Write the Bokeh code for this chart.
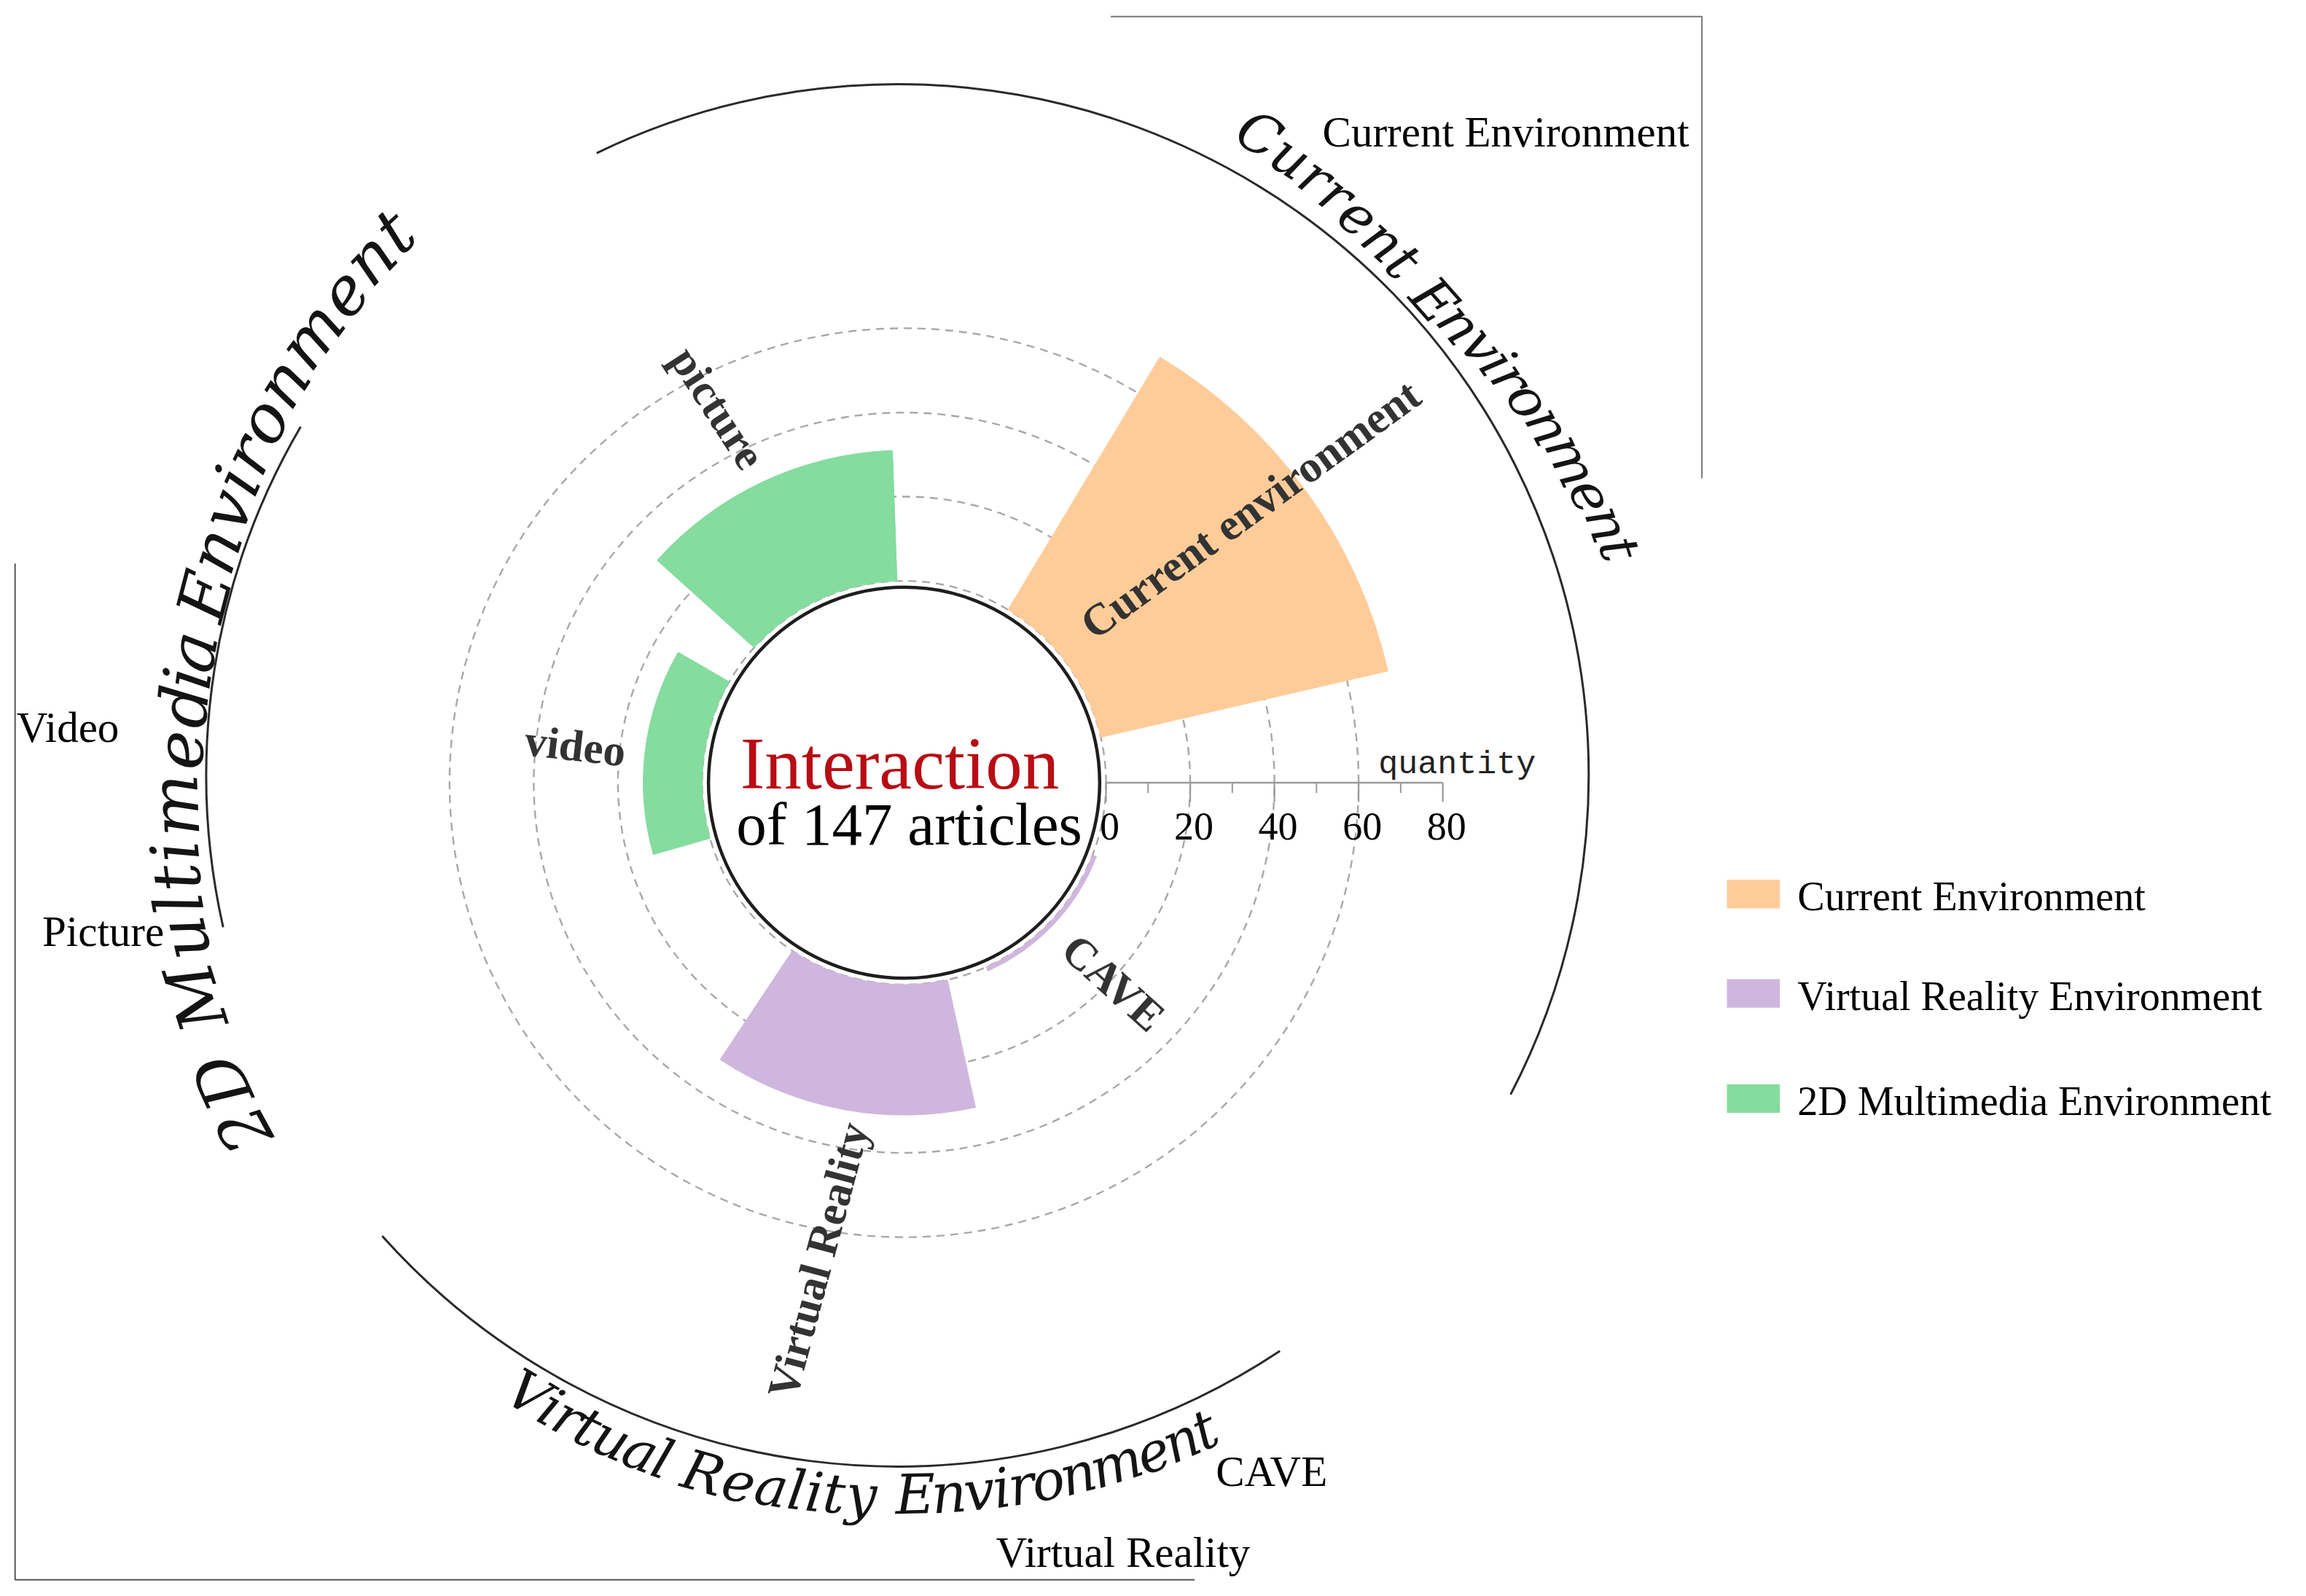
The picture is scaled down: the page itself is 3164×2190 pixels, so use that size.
import numpy as np
from bokeh.plotting import figure
from bokeh.models import Range1d, ColumnDataSource
from bokeh.core.properties import value
from bokeh.embed import file_html
from bokeh.resources import INLINE

# ---------------- data ----------------
categories = ["Current environment", "CAVE", "Virtual Reality", "video", "picture"]
groups = ["Current Environment", "Virtual Reality Environment", "Virtual Reality Environment",
          "2D Multimedia Environment", "2D Multimedia Environment"]
quantities = [70, 1, 31, 14, 31]
legend_labels = ["Current Environment", "Virtual Reality Environment", "2D Multimedia Environment"]
axis_major = [0, 20, 40, 60, 80]
axis_minor = [10, 30, 50, 70]
grid_values = [0, 20, 40, 60]
axis_title = "quantity"
center_title = "Interaction"
center_sub = "of 147 articles"
ring_titles = ["Current Environment", "2D Multimedia Environment", "Virtual Reality Environment"]
side_notes = ["Current Environment", "Video", "Picture", "CAVE", "Virtual Reality"]

# ---------------- layout / style ----------------
S = 3164 / 1568.0           # screen px per layout unit
W, H = 3148, 2174
colors = {"Current Environment": "#FFCC99",
          "Virtual Reality Environment": "#CFB6DE",
          "2D Multimedia Environment": "#84DC9E"}
CX, CY = 614.5, 532.0       # polar centre (layout units, y down)
R_IN = 133.0                # white hub
R0 = 137.3                  # radius of value 0
K = 2.8625                  # radius per unit
bar_center_deg = [36.0, 316.5, 259.4, 173.0, 115.0]
bar_width_deg = [46.0, 45.0, 46.0, 46.0, 46.0]
OX, OY, OR = 610.0, 527.0, 470.0   # outer group arcs
DEG = dict(start_angle_units="deg", end_angle_units="deg")


def px(d):
    return value(f"{d * S:.0f}px")


def rad(v):
    return R0 + K * v


p = figure(width=W, height=H, x_range=Range1d(0, W / S), y_range=Range1d(-H / S, 0),
           output_backend="svg", toolbar_location=None, min_border=0)
p.axis.visible = False
p.grid.visible = False
p.outline_line_color = None
p.background_fill_color = "white"
p.border_fill_color = "white"

SERIF = value("Liberation Serif")

# ---- dashed radial grid
for g in grid_values:
    p.arc(x=CX, y=-CY, radius=rad(g), start_angle=0, end_angle=360, **DEG,
          line_color="#a8a8a8", line_width=2.4, line_dash="11 8")

# ---- bars
bars = ColumnDataSource(dict(
    r_out=[rad(v) for v in quantities],
    a0=[c - w / 2 for c, w in zip(bar_center_deg, bar_width_deg)],
    a1=[c + w / 2 for c, w in zip(bar_center_deg, bar_width_deg)],
    col=[colors[g] for g in groups],
))
p.annular_wedge(x=CX, y=-CY, inner_radius=R0, outer_radius="r_out", start_angle="a0", end_angle="a1",
                **DEG, fill_color="col", line_color="col", line_width=1, source=bars)

# ---- hub
p.circle(x=CX, y=-CY, radius=R_IN, fill_color="white", line_color="#1e1e1e", line_width=4.5)
p.text(x=[CX - 3], y=[-519], text=[center_title], text_font=SERIF, text_font_size=px(50),
       text_color="#B80D14", text_align="center", text_baseline="middle")
p.text(x=[CX + 3.5], y=[-560], text=[center_sub], text_font=SERIF, text_font_size=px(41),
       text_color="#000000", text_align="center", text_baseline="middle")

# ---- radial value axis
AY = CY
x0, x1 = CX + rad(0), CX + rad(axis_major[-1])
p.segment(x0=[x0], y0=[-AY], x1=[x1], y1=[-AY], line_color="#9a9a9a", line_width=2.6)
mx = [CX + rad(v) for v in axis_major]
p.segment(x0=mx, y0=[-AY] * len(mx), x1=mx, y1=[-(AY + 13)] * len(mx), line_color="#9a9a9a", line_width=2.2)
nx = [CX + rad(v) for v in axis_minor]
p.segment(x0=nx, y0=[-AY] * len(nx), x1=nx, y1=[-(AY + 7)] * len(nx), line_color="#9a9a9a", line_width=2.0)
p.text(x=[m + 2.5 for m in mx], y=[-561.5] * len(mx), text=[str(v) for v in axis_major],
       text_font=SERIF, text_font_size=px(27), text_color="#000", text_align="center",
       text_baseline="middle")
p.text(x=[937], y=[-520], text=[axis_title], text_font=value("Liberation Mono"), text_font_size=px(22.3),
       text_color="#222", text_align="left", text_baseline="middle")

# ---- category labels (radial)
lab_r = [300.0, 197.0, 330.0, 225.0, 284.6]
lab_t = [38.3, 316.3, 259.8, 173.6, 116.4]
lab_rot = [36.0, -42.0, 75.0, -6.5, -57.0]
p.text(x=[CX + r * np.cos(np.radians(t)) for r, t in zip(lab_r, lab_t)],
       y=[-CY + r * np.sin(np.radians(t)) for r, t in zip(lab_r, lab_t)],
       text=categories, angle=lab_rot, angle_units="deg", text_font=SERIF, text_font_style="bold",
       text_font_size=px(30), text_color="#333333", text_align="center", text_baseline="middle")

# ---- outer group arcs
for a0, a1 in [(-27.5, 115.8), (149.7, 192.7), (221.8, 303.6)]:
    p.arc(x=OX, y=-OY, radius=OR, start_angle=a0, end_angle=a1, **DEG,
          line_color="#2a2a2a", line_width=3.0)

# ---- curved group titles
CW = {'C': .72, 'u': .64, 'r': .48, 'e': .59, 'n': .64, 't': .40, ' ': .32, 'E': .72, 'v': .59,
      'i': .32, 'o': .60, 'm': .95, '2': .64, 'D': .77, 'M': .99, 'l': .32, 'd': .64, 'a': .60,
      'V': .72, 'R': .74, 'y': .59}


def curved(text, controls, font_d, up_out=True):
    w = np.array([CW.get(ch, .6) for ch in text])
    s = np.cumsum(w) - w / 2
    sc, tc, rc = [], [], []
    for idx, (xx, yy) in controls:
        dx, dy = xx - OX, OY - yy
        sc.append(s[idx])
        tc.append(np.degrees(np.arctan2(dy, dx)) % 360)
        rc.append(np.hypot(dx, dy))
    th = np.interp(s, sc, tc)
    rr = np.interp(s, sc, rc)
    src = ColumnDataSource(dict(
        x=OX + rr * np.cos(np.radians(th)), y=-OY + rr * np.sin(np.radians(th)),
        a=th - 90 if up_out else th + 90, t=list(text)))
    p.text(x="x", y="y", text="t", angle="a", angle_units="deg", source=src,
           text_font=value("DejaVu Serif"), text_font_style="italic", text_font_size=px(font_d),
           text_color="#141414", text_align="center", text_baseline="middle")


curved(ring_titles[0], [(0, (856, 91)), (8, (975, 204)), (18, (1101, 373))], 37)
curved(ring_titles[1], [(0, (165, 768)), (10, (125, 480)), (14, (139, 405)), (24, (268, 157))], 45)
curved(ring_titles[2], [(0, (359, 947.5)), (8, (478, 1001.5)), (16, (622, 1016)), (26, (819, 972))], 37,
       up_out=False)

# ---- side notes
note_x = [899, 11, 28.5, 826.5, 677]
note_y = [89.3, 494.3, 633, 1000.3, 1055.3]
p.text(x=note_x, y=[-v for v in note_y], text=side_notes, text_font=SERIF, text_font_size=px(29),
       text_color="#000", text_align="left", text_baseline="middle")

# ---- frame lines
p.line(x=[755, 1157, 1157], y=[-11, -11, -325], line_color="#777777", line_width=2)
p.line(x=[10, 10, 812], y=[-383, -1074, -1074], line_color="#555555", line_width=2)

# ---- legend
leg_top = [598, 665.5, 737]
leg_mid = [609.3, 677.3, 748.8]
p.quad(left=[1174] * 3, right=[1210] * 3, top=[-t for t in leg_top], bottom=[-(t + 19.5) for t in leg_top],
       fill_color=[colors[g] for g in legend_labels], line_color=None)
p.text(x=[1222] * 3, y=[-b for b in leg_mid], text=legend_labels, text_font=SERIF, text_font_size=px(27.8),
       text_color="#000", text_align="left", text_baseline="middle")

open("out.html", "w").write(file_html(p, INLINE))
